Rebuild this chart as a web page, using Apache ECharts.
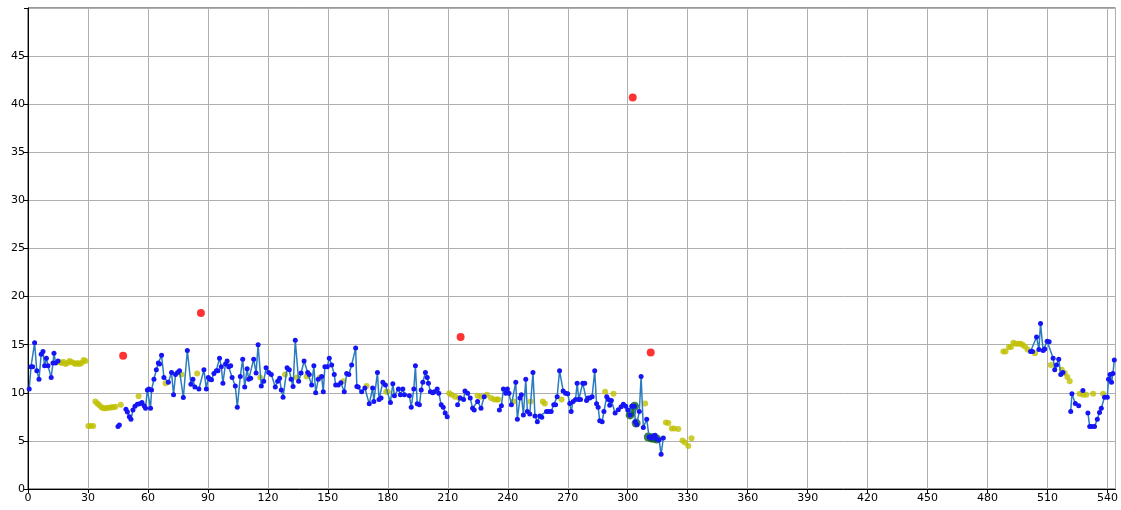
<!DOCTYPE html>
<html>
<head>
<meta charset="utf-8">
<script src="https://cdn.jsdelivr.net/npm/echarts@6/dist/echarts.min.js"></script>
<style>
  html, body { margin: 0; padding: 0; background: #fff; }
  #chart { width: 1121px; height: 510px; }
</style>
</head>
<body>
<div id="chart"></div>
<script>
// Connected runs of the main signal, each drawn as its own line with markers
const blueRunA = [[0.6,10.4],[1.5,12.7],[2.3,12.7],[3.3,15.2],[4.4,12.3],[5.5,11.4],[6.6,14.0],[7.5,14.3],[8.3,12.8],[9.2,13.6],[10.0,12.8],[11.6,11.6],[12.5,13.1],[13.0,14.1],[13.8,13.1],[15.0,13.3]];
const blueRunB = [[45.0,6.5],[45.7,6.65]];
const blueRunC = [[49.0,8.3],[49.7,8.0],[50.7,7.5],[51.5,7.25],[52.5,8.2],[53.5,8.6],[54.7,8.8],[55.9,8.85],[57.0,9.0],[58.1,8.65],[58.8,8.4],[59.7,10.3],[60.5,10.4],[61.3,8.4],[61.8,10.3],[63.0,11.4],[64.2,12.4],[65.2,13.1],[65.8,13.0],[66.8,13.9],[68.0,11.6],[70.2,11.1],[71.8,12.1],[72.8,9.8],[73.8,11.9],[74.8,12.1],[75.8,12.3],[77.7,9.5],[79.7,14.4],[81.5,10.9],[82.5,11.4],[83.5,10.6],[85.5,10.4],[88.0,12.4],[89.2,10.4],[90.2,11.6],[91.0,11.4],[91.8,11.35],[93.0,12.0],[94.2,12.3],[95.0,12.3],[95.8,13.6],[96.7,12.7],[97.5,11.0],[98.8,13.0],[99.6,13.3],[100.4,12.7],[101.4,12.8],[102.1,11.6],[103.7,10.7],[104.7,8.5],[106.2,11.7],[107.4,13.5],[108.4,10.6],[109.6,12.5],[110.4,11.4],[111.4,11.5],[112.9,13.5],[114.1,12.05],[115.1,15.0],[116.7,10.7],[117.9,11.2],[119.1,12.6],[120.4,12.1],[121.7,11.9],[123.7,10.6],[124.9,11.2],[125.9,11.5],[126.7,10.3],[127.6,9.55],[129.6,12.6],[130.7,12.4],[131.6,11.4],[132.6,10.65],[133.7,15.45],[135.4,11.2],[136.6,12.05],[138.1,13.3],[139.9,12.1],[140.7,11.9],[141.9,10.8],[143.0,12.8],[143.9,10.0],[145.2,11.4],[146.9,11.7],[147.7,10.1],[148.5,12.7],[149.7,12.7],[150.7,13.6],[151.9,12.9],[153.2,11.9],[153.9,10.8],[155.2,10.8],[156.5,11.05],[158.2,10.1],[159.4,12.0],[160.5,11.9],[161.9,12.9],[163.9,14.65],[164.5,10.65],[165.2,10.6],[166.9,10.1],[168.5,10.5],[170.7,8.85],[172.4,10.5],[173.0,9.1],[174.8,12.1],[175.6,9.3],[176.6,9.45],[177.5,11.1],[178.8,10.8],[181.3,9.0],[182.5,10.95],[183.3,9.7],[185.3,10.4],[186.3,9.8],[187.5,10.4],[188.3,9.8],[190.8,9.7],[191.7,8.5],[193.0,10.4],[193.8,12.8],[194.7,8.85],[195.8,8.75],[196.7,10.3],[197.5,11.1],[198.8,12.1],[199.7,11.6],[200.3,11.0],[201.3,10.1],[202.5,10.0],[203.3,10.1],[204.7,10.4],[205.5,9.96],[206.7,8.75],[207.7,8.5],[208.7,7.9],[209.7,7.5]];
const blueRunD = [[214.9,8.75],[216.2,9.45],[217.9,9.3],[218.6,10.2],[219.9,9.96],[221.2,9.45],[222.4,8.4],[223.2,8.2],[224.9,9.1],[226.6,8.4],[228.2,9.6]];
const blueRunE = [[235.8,8.2],[236.8,8.65],[237.8,10.4],[239.0,9.96],[239.8,10.4],[240.6,9.96],[241.8,8.75],[244.0,11.1],[244.8,7.25],[246.1,9.45],[246.8,9.8],[247.8,7.7],[249.0,11.4],[249.8,8.05],[251.0,7.8],[252.6,12.1],[253.6,7.6],[254.8,7.0],[256.0,7.6],[257.0,7.45],[259.4,8.05],[260.5,8.05],[261.7,8.05],[263.0,8.75],[263.9,8.75],[264.7,9.6],[265.9,12.3],[267.7,10.2],[268.9,9.96],[270.0,9.9],[271.0,8.9],[271.7,8.05],[272.7,9.1],[273.9,9.3],[274.7,11.0],[275.5,9.3],[276.4,9.3],[277.5,11.0],[278.5,11.0],[279.4,9.2],[280.2,9.45],[281.0,9.45],[282.2,9.6],[283.5,12.3],[284.4,8.85],[285.2,8.5],[286.0,7.1],[287.2,7.0],[288.1,8.05],[289.5,9.6],[290.3,9.3],[291.0,8.7],[291.8,9.2],[293.7,7.9],[295.3,8.25],[296.7,8.55],[297.8,8.8],[299.0,8.6],[300.0,8.2],[301.2,7.7],[302.0,8.6],[303.3,8.6],[303.8,7.0],[304.5,6.7],[305.8,8.05],[306.7,11.7],[307.8,6.4],[309.5,7.25],[310.7,5.4],[312.0,5.3],[312.8,5.5],[313.7,5.6],[314.5,5.2],[315.7,5.1],[316.7,3.6],[317.8,5.3]];
const blueRunF = [[501.5,14.3],[502.5,14.3],[504.5,15.8],[505.7,14.5],[506.5,17.2],[507.8,14.4],[508.6,14.55],[509.8,15.35],[510.8,15.3],[512.8,13.6],[513.6,12.4],[514.5,12.9],[515.6,13.5],[516.6,11.9],[517.7,12.1]];
const blueRunG = [[521.6,8.05],[522.2,9.9],[523.9,8.9],[525.6,8.65]];
const blueRunH = [[527.7,10.24]];
const blueRunI = [[530.2,7.9],[531.1,6.5],[532.2,6.5],[533.5,6.5],[534.9,7.26],[536.0,7.95],[536.9,8.4],[538.5,9.55],[539.9,9.55],[540.5,11.4],[541.3,11.9],[542.0,11.1],[542.7,12.0],[543.4,13.4]];

// Secondary readings shown as olive dots
const yellowPoints = [
  [15.8,13.2],[16.8,13.1],[17.8,13.2],[18.8,13.0],[19.8,13.1],[20.8,13.3],[21.8,13.2],[22.8,13.1],[23.8,13.0],[24.8,13.1],[25.8,13.0],[26.8,13.1],[27.8,13.4],[28.8,13.3],
  [30.2,6.55],[31.4,6.55],[32.6,6.55],
  [33.7,9.1],[34.7,8.9],[35.7,8.7],[36.7,8.5],[37.7,8.4],[38.7,8.4],[39.7,8.45],[40.7,8.45],[41.7,8.5],[42.7,8.5],[43.7,8.55],[46.4,8.75],[55.3,9.65],
  [68.8,11.0],[76.8,11.9],[84.6,12.0],[116.2,11.6],[128.6,11.9],[134.5,11.6],[139.4,11.7],[146.0,11.6],[157.7,11.2],[169.4,10.7],[179.2,10.1],[180.0,10.1],
  [210.7,9.96],[211.9,9.8],[213.6,9.6],[215.7,9.45],[224.9,9.7],[226.6,9.6],[229.6,9.8],[231.6,9.45],[233.2,9.3],[234.6,9.3],[235.2,9.3],
  [242.8,9.1],[251.4,9.1],[257.5,9.1],[258.5,8.9],[266.9,9.3],
  [288.7,10.1],[292.9,9.9],[308.7,8.9],[319.1,6.9],[320.3,6.85],[322.0,6.3],[323.3,6.3],[325.3,6.25],[327.4,5.04],[328.6,4.83],[330.3,4.48],[331.9,5.28],
  [487.9,14.3],[489.0,14.3],[490.7,14.75],[491.7,14.75],[492.9,15.2],[494.0,15.1],[495.4,15.1],[496.5,15.1],[497.5,15.0],[498.7,14.8],[500.0,14.5],[503.7,14.1],
  [511.6,12.9],[517.1,12.4],[518.6,12.05],[519.9,11.65],[521.1,11.2],[526.1,9.9],[527.8,9.8],[529.4,9.8],[532.8,9.9],[537.8,9.9]
];

// Highlighted samples (dark green halo under the main markers)
const greenPoints = [[301.2,7.7],[302.0,8.0],[303.4,8.6],[304.2,6.85],[310.3,5.4],[312.0,5.3],[313.1,5.3],[314.5,5.2]];

// Outliers
const redPoints = [[47.6,13.85],[86.5,18.3],[216.4,15.8],[302.5,40.7],[311.5,14.2]];

const blueRuns = [blueRunA, blueRunB, blueRunC, blueRunD, blueRunE, blueRunF, blueRunG, blueRunH, blueRunI];

const xTickStep = 30;
const yTickStep = 5;

const chart = echarts.init(document.getElementById('chart'), null, { renderer: 'canvas' });

const series = [];
series.push({
  type: 'scatter',
  data: greenPoints,
  symbol: 'circle',
  symbolSize: 9,
  itemStyle: { color: '#0b5f1e' },
  z: 2,
  silent: true
});
series.push({
  type: 'scatter',
  data: yellowPoints,
  symbol: 'circle',
  symbolSize: 6,
  itemStyle: { color: '#bfbf00' },
  z: 1,
  silent: true
});
blueRuns.forEach(run => {
  series.push({
    type: 'line',
    data: run,
    symbol: 'circle',
    symbolSize: 5,
    showSymbol: true,
    showAllSymbol: true,
    lineStyle: { color: '#2a7bbf', width: 1.5 },
    itemStyle: { color: '#1515f5', borderWidth: 0 },
    z: 3,
    silent: true
  });
});
series.push({
  type: 'scatter',
  data: redPoints,
  symbol: 'circle',
  symbolSize: 8,
  itemStyle: { color: '#ff0000' },
  z: 4,
  silent: true
});

chart.setOption({
  animation: false,
  backgroundColor: '#ffffff',
  grid: {
    left: 28, right: 1, top: 8, bottom: 21,
    show: true, borderColor: '#333', borderWidth: 1, backgroundColor: 'transparent'
  },
  xAxis: {
    type: 'value',
    min: 0, max: 544, interval: xTickStep,
    axisLine: { show: true, onZero: false, lineStyle: { color: '#000', width: 1 } },
    axisTick: { show: true, length: 4, lineStyle: { color: '#000' } },
    axisLabel: { color: '#000', fontSize: 11, fontFamily: 'DejaVu Sans', margin: 4, showMaxLabel: false },
    splitLine: { show: true, lineStyle: { color: '#b0b0b0', width: 1 } }
  },
  yAxis: {
    type: 'value',
    min: 0, max: 50, interval: yTickStep,
    axisLine: { show: true, onZero: false, lineStyle: { color: '#000', width: 1 } },
    axisTick: { show: true, length: 4, lineStyle: { color: '#000' } },
    axisLabel: {
      color: '#000', fontSize: 11, fontFamily: 'DejaVu Sans', margin: 3,
      formatter: v => (v >= 50 ? '' : String(v))
    },
    splitLine: { show: true, lineStyle: { color: '#b0b0b0', width: 1 } }
  },
  series: series
});
</script>
</body>
</html>
